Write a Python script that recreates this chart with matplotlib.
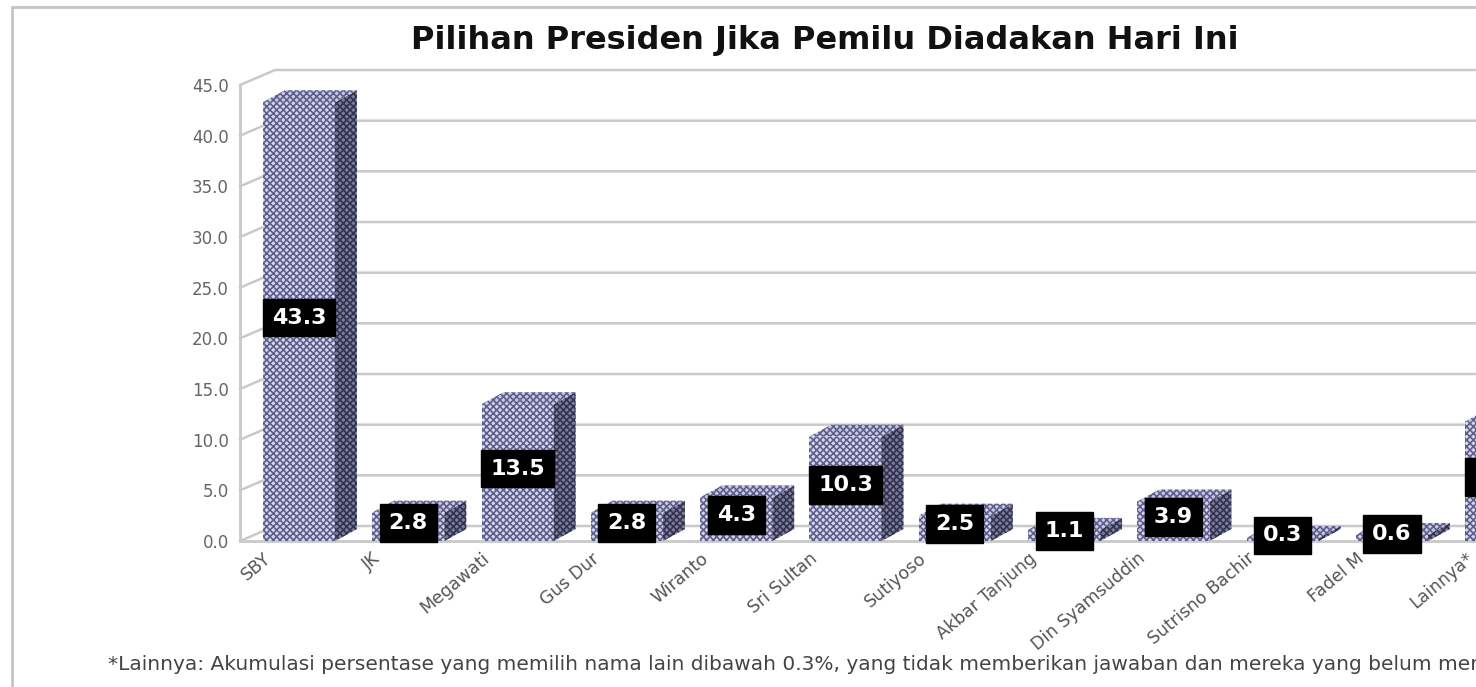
import matplotlib
matplotlib.use("Agg")
import matplotlib.pyplot as plt
from matplotlib.patches import Polygon, Rectangle
from matplotlib.transforms import ScaledTranslation

# ---- data -------------------------------------------------------------
candidates = ["SBY", "JK", "Megawati", "Gus Dur", "Wiranto", "Sri Sultan",
              "Sutiyoso", "Akbar Tanjung", "Din Syamsuddin", "Sutrisno Bachir",
              "Fadel M", "Lainnya*"]
shares = [43.3, 2.8, 13.5, 2.8, 4.3, 10.3, 2.5, 1.1, 3.9, 0.3, 0.6, 11.8]
yticks = [0, 5, 10, 15, 20, 25, 30, 35, 40, 45]
ytick_labels = ["0.0", "5.0", "10.0", "15.0", "20.0", "25.0", "30.0",
                "35.0", "40.0", "45.0"]
title = "Pilihan Presiden Jika Pemilu Diadakan Hari Ini"
footnote = ("*Lainnya: Akumulasi persentase yang memilih nama lain dibawah 0.3%, "
            "yang tidak memberikan jawaban dan mereka yang belum menentukan pilihan")

# ---- styling ----------------------------------------------------------
W, H = 1476, 687
GRID = "#c9c9c9"
FRONT = "#d6d6ee"
TOP = "#cacae6"
SIDE = "#7c7c9c"
HATCH_LIGHT = "#5f5f8c"
HATCH_DARK = "#33334f"
BAR_W = 0.66          # front face width (x units)
DEPTH_X, DEPTH_Y = 0.20, 1.18   # bar depth offset
WALL_X, WALL_Y = 0.32, 1.48     # wall depth offset
X0, X1 = -0.54, 11.8

plt.rcParams["font.family"] = ["DejaVu Sans"]
plt.rcParams["hatch.linewidth"] = 1.2

fig = plt.figure(figsize=(W / 100, H / 100), dpi=100)
fig.patch.set_facecolor("white")

# outer frame
fig.add_artist(Rectangle((12 / W, -0.05), 1.2, 1 - 7 / H + 0.05,
                         transform=fig.transFigure, fill=False,
                         edgecolor="#c4c4c4", linewidth=2))

ax = fig.add_axes([240 / W, (H - 541) / H, (X1 - X0) * 109.3 / W, 456 / H])
ax.set_xlim(X0, X1)
ax.set_ylim(0, 45)
ax.patch.set_visible(False)
for side in ("top", "right", "bottom"):
    ax.spines[side].set_visible(False)
ax.spines["left"].set_color(GRID)
ax.spines["left"].set_linewidth(2)

# side wall + back wall grid lines
for t in yticks:
    ax.plot([X0, X0 + WALL_X, X1 + 2], [t, t + WALL_Y, t + WALL_Y],
            color=GRID, lw=1.8, clip_on=False, zorder=1)
ax.plot([X0, X1 + 2], [0, 0], color=GRID, lw=2, clip_on=False, zorder=1)

ax.set_yticks(yticks, ytick_labels)
ax.tick_params(axis="y", length=0, pad=8, labelsize=12, labelcolor="#666666")

# bars: front faces through the axes' bar method, then side and top faces
xs = list(range(len(shares)))
ax.bar(xs, shares, width=BAR_W, color=FRONT, edgecolor=HATCH_LIGHT,
       linewidth=0, hatch="xxxxx", zorder=3)
for x, v in zip(xs, shares):
    l, r = x - BAR_W / 2, x + BAR_W / 2
    ax.add_patch(Polygon([(r, 0), (r + DEPTH_X, DEPTH_Y),
                          (r + DEPTH_X, v + DEPTH_Y), (r, v)],
                         closed=True, facecolor=SIDE, edgecolor=HATCH_DARK,
                         linewidth=0, hatch="xxxxx", zorder=3, clip_on=False))
    ax.add_patch(Polygon([(l, v), (r, v), (r + DEPTH_X, v + DEPTH_Y),
                          (l + DEPTH_X, v + DEPTH_Y)],
                         closed=True, facecolor=TOP, edgecolor=HATCH_LIGHT,
                         linewidth=0, hatch="xxxxx", zorder=3, clip_on=False))
    ax.text(x, v / 2 + 0.4, f"{v:.1f}", ha="center", va="center",
            color="white", fontsize=16, fontweight="bold", zorder=6,
            bbox=dict(boxstyle="square,pad=0.4", facecolor="black",
                      edgecolor="black"))

# category labels
ax.set_xticks(xs, candidates)
ax.tick_params(axis="x", length=0, pad=6, labelsize=12.5, labelcolor="#555555")
shift = ScaledTranslation(-0.36, 0, fig.dpi_scale_trans)
for lab in ax.get_xticklabels():
    lab.set_rotation(40)
    lab.set_ha("right")
    lab.set_va("top")
    lab.set_rotation_mode("anchor")
    lab.set_transform(lab.get_transform() + shift)
    lab.set_zorder(2)

fig.text(825 / W, 1 - 40 / H, title, ha="center", va="center",
         fontsize=23, fontweight="bold", color="#111111")
fig.text(108 / W, 1 - 665 / H, footnote, ha="left", va="center",
         fontsize=14.5, color="#444444")

fig.savefig("out.png", dpi=100)
